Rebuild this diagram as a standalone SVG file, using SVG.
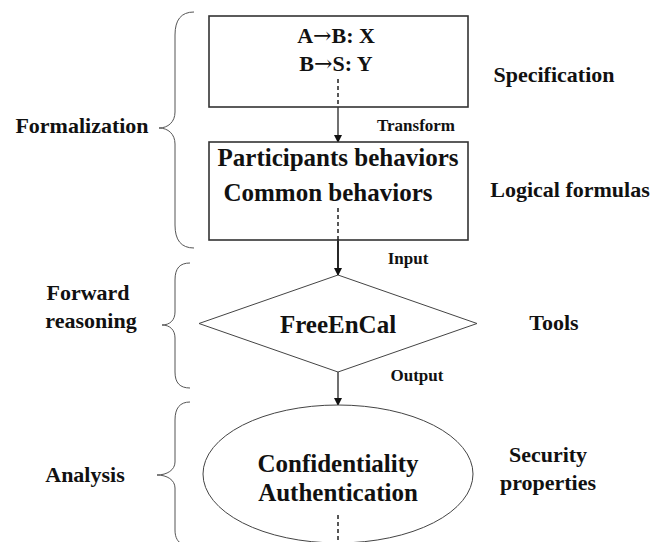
<svg xmlns="http://www.w3.org/2000/svg" width="665" height="542" viewBox="0 0 665 542">
<style>
.t{font-family:"Liberation Serif","Times New Roman",serif;font-weight:bold;fill:#111;text-anchor:middle;}
.n{font-size:25px;}
.s{font-size:22px;}
.l{font-size:17px;}
.ar{font-family:"DejaVu Serif",serif;font-weight:normal;}
.box{fill:#fff;stroke:#333;stroke-width:1.6;}
.shape{fill:#fff;stroke:#444;stroke-width:1;}
.brace{fill:none;stroke:#555;stroke-width:1;}
.dash{stroke:#111;stroke-width:1.4;stroke-dasharray:4,3;}
.arr{stroke:#111;stroke-width:1.2;fill:none;marker-end:url(#ah);}
</style>
<defs>
<marker id="ah" markerWidth="8" markerHeight="8" refX="7" refY="4" orient="auto" markerUnits="userSpaceOnUse">
<path d="M0,0 L8,4 L0,8 z" fill="#111"/>
</marker>
</defs>
<g id="connectors">
<line class="arr" x1="338" y1="107" x2="338" y2="142"/>
<line class="arr" x1="338" y1="240" x2="338" y2="275" style="stroke-width:1.8"/>
<line class="arr" x1="338" y1="372" x2="338" y2="405"/>
<text class="t l" x="416" y="131">Transform</text>
<text class="t l" x="408" y="264">Input</text>
<text class="t l" x="417" y="381">Output</text>
</g>
<g id="spec">
<rect class="box" x="209" y="16" width="259" height="91"/>
<text class="t s" x="336" y="43">A<tspan class="ar">&#8594;</tspan>B: X</text>
<text class="t s" x="336" y="71">B<tspan class="ar">&#8594;</tspan>S: Y</text>
<line class="dash" x1="338" y1="79" x2="338" y2="107"/>
</g>
<g id="formulas">
<rect class="box" x="209" y="142" width="259" height="98"/>
<text class="t n" x="338" y="166">Participants behaviors</text>
<text class="t n" x="328" y="201">Common behaviors</text>
<line class="dash" x1="338" y1="208" x2="338" y2="240"/>
</g>
<g id="freeencal">
<polygon class="shape" points="338,275 477,323.5 338,372 199,323.5"/>
<text class="t n" x="338" y="333">FreeEnCal</text>
</g>
<g id="properties">
<ellipse class="shape" cx="338" cy="474" rx="135" ry="69"/>
<text class="t n" x="338" y="472">Confidentiality</text>
<text class="t n" x="338" y="501">Authentication</text>
<line class="dash" x1="338" y1="515" x2="338" y2="542"/>
</g>
<g id="braces">
<path class="brace" d="M194,12 C181,12 175,20 175,35 L175,112 C175,122 168,128 159,128 C168,128 175,134 175,144 L175,225 C175,240 181,248 194,248"/>
<path class="brace" d="M190,263 C180,263 175,268 175,280 L175,312 C175,320 170,325 162,325 C170,325 175,330 175,338 L175,372 C175,383 180,388 190,388"/>
<path class="brace" d="M190,402 C180,402 175,408 175,420 L175,462 C175,470 167,475 157,475 C167,475 175,480 175,488 L175,530 C175,538 178,542 182,544"/>
</g>
<g id="left-labels">
<text class="t s" x="82" y="133">Formalization</text>
<text class="t s" x="88" y="300">Forward</text>
<text class="t s" x="91" y="328">reasoning</text>
<text class="t s" x="85" y="482">Analysis</text>
</g>
<g id="right-labels">
<text class="t s" x="554" y="82">Specification</text>
<text class="t s" x="570" y="197">Logical formulas</text>
<text class="t s" x="554" y="330">Tools</text>
<text class="t s" x="548" y="462">Security</text>
<text class="t s" x="548" y="490">properties</text>
</g>
</svg>
